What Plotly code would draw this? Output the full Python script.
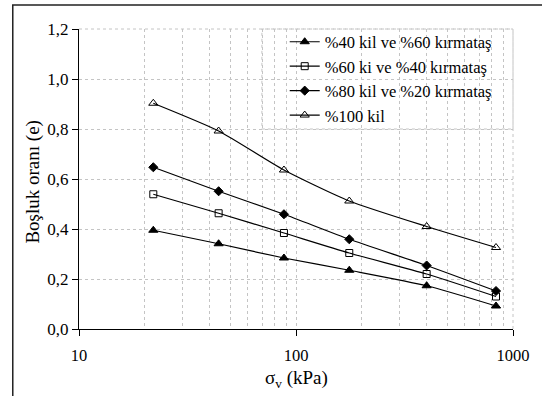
import plotly.graph_objects as go

# Vertical stress (kPa) and void ratios for each mixture
sigma_v = [22, 44, 88, 176, 400, 835]
e_40kil = [0.395, 0.341, 0.284, 0.235, 0.173, 0.092]
e_60kil = [0.539, 0.463, 0.384, 0.304, 0.220, 0.130]
e_80kil = [0.647, 0.551, 0.459, 0.359, 0.254, 0.152]
e_100kil = [0.903, 0.792, 0.636, 0.512, 0.410, 0.326]

series_names = [
    "%40 kil ve %60 kırmataş",
    "%60 ki ve %40 kırmataş",
    "%80 kil ve %20 kırmataş",
    "%100 kil",
]

x_tickvals = [10, 100, 1000]
x_ticktext = ["10", "100", "1000"]
x_minor = [20, 30, 40, 50, 60, 70, 80, 90, 200, 300, 400, 500, 600, 700, 800, 900]
y_tickvals = [0.0, 0.2, 0.4, 0.6, 0.8, 1.0, 1.2]
y_ticktext = ["0,0", "0,2", "0,4", "0,6", "0,8", "1,0", "1,2"]

FONT = "Liberation Serif"
GRID = "#c4c4c4"

styles = [
    dict(symbol="triangle-up", size=8, color="black", line=dict(color="black", width=1)),
    dict(symbol="square-open", size=7, color="black", line=dict(color="black", width=1)),
    dict(symbol="diamond", size=7, color="black", line=dict(color="black", width=1)),
    dict(symbol="triangle-up-open", size=8, color="black", line=dict(color="black", width=1)),
]

fig = go.Figure()
for name, vals, mk in zip(series_names, [e_40kil, e_60kil, e_80kil, e_100kil], styles):
    fig.add_trace(go.Scatter(
        x=sigma_v, y=vals, name=name, mode="lines+markers",
        line=dict(color="black", width=1.2, shape="spline", smoothing=0.6),
        marker=mk,
    ))

grid = dict(showgrid=True, gridcolor=GRID, gridwidth=1, griddash="3px,3px")

fig.update_layout(
    width=542, height=396,
    margin=dict(l=79, r=24, t=29, b=67),
    paper_bgcolor="white", plot_bgcolor="white",
    font=dict(family=FONT, size=15, color="black"),
    showlegend=True,
    legend=dict(
        x=0.474, y=1.015, xanchor="left", yanchor="top",
        bgcolor="rgba(0,0,0,0)", borderwidth=0,
        font=dict(family=FONT, size=16.5),
        tracegroupgap=0, itemwidth=30,
    ),
    xaxis=dict(
        type="log", range=[1, 3],
        tickmode="array", tickvals=x_tickvals, ticktext=x_ticktext,
        ticks="outside", ticklen=6, tickcolor="black",
        ticklabelstandoff=5,
        showline=True, linecolor="black", linewidth=1,
        zeroline=False,
        tickfont=dict(family=FONT, size=16.5),
        minor=dict(tickmode="array", tickvals=x_minor, ticks="",
                   showgrid=True, gridcolor=GRID, gridwidth=1, griddash="3px,3px"),
        **grid,
    ),
    yaxis=dict(
        range=[0, 1.2],
        tickmode="array", tickvals=y_tickvals, ticktext=y_ticktext,
        ticks="outside", ticklen=6, tickcolor="black",
        showline=True, linecolor="black", linewidth=1,
        zeroline=False,
        tickfont=dict(family=FONT, size=17),
        **grid,
    ),
    annotations=[
        dict(text="σ<sub>v</sub> (kPa)", xref="paper", yref="paper",
             x=0.5, y=-0.165, xanchor="center", yanchor="middle",
             showarrow=False, font=dict(family=FONT, size=19)),
        dict(text="Boşluk oranı (e)", xref="paper", yref="paper",
             x=-0.107, y=0.49, xanchor="center", yanchor="middle",
             textangle=-90, showarrow=False, font=dict(family=FONT, size=19)),
    ],
    shapes=[
        # chart frame
        dict(type="rect", xref="paper", yref="paper",
             x0=-0.1526, y0=-0.3, x1=1.12, y1=1.08,
             line=dict(color="#222222", width=1.5), fillcolor="rgba(0,0,0,0)",
             layer="below"),
        # legend box
        dict(type="rect", xref="paper", yref="paper",
             x0=(264 - 79) / 439, x1=1.0, y0=2 / 3, y1=1.0,
             line=dict(color=GRID, width=1, dash="3px,3px"), fillcolor="white",
             layer="between"),
        # dashed top and right borders of the plot area
        dict(type="line", xref="paper", yref="paper", x0=0, x1=1, y0=1, y1=1,
             line=dict(color=GRID, width=1, dash="3px,3px"), layer="between"),
        dict(type="line", xref="paper", yref="paper", x0=1, x1=1, y0=0, y1=1,
             line=dict(color=GRID, width=1, dash="3px,3px"), layer="between"),
    ],
)

fig.write_html("out.html")
